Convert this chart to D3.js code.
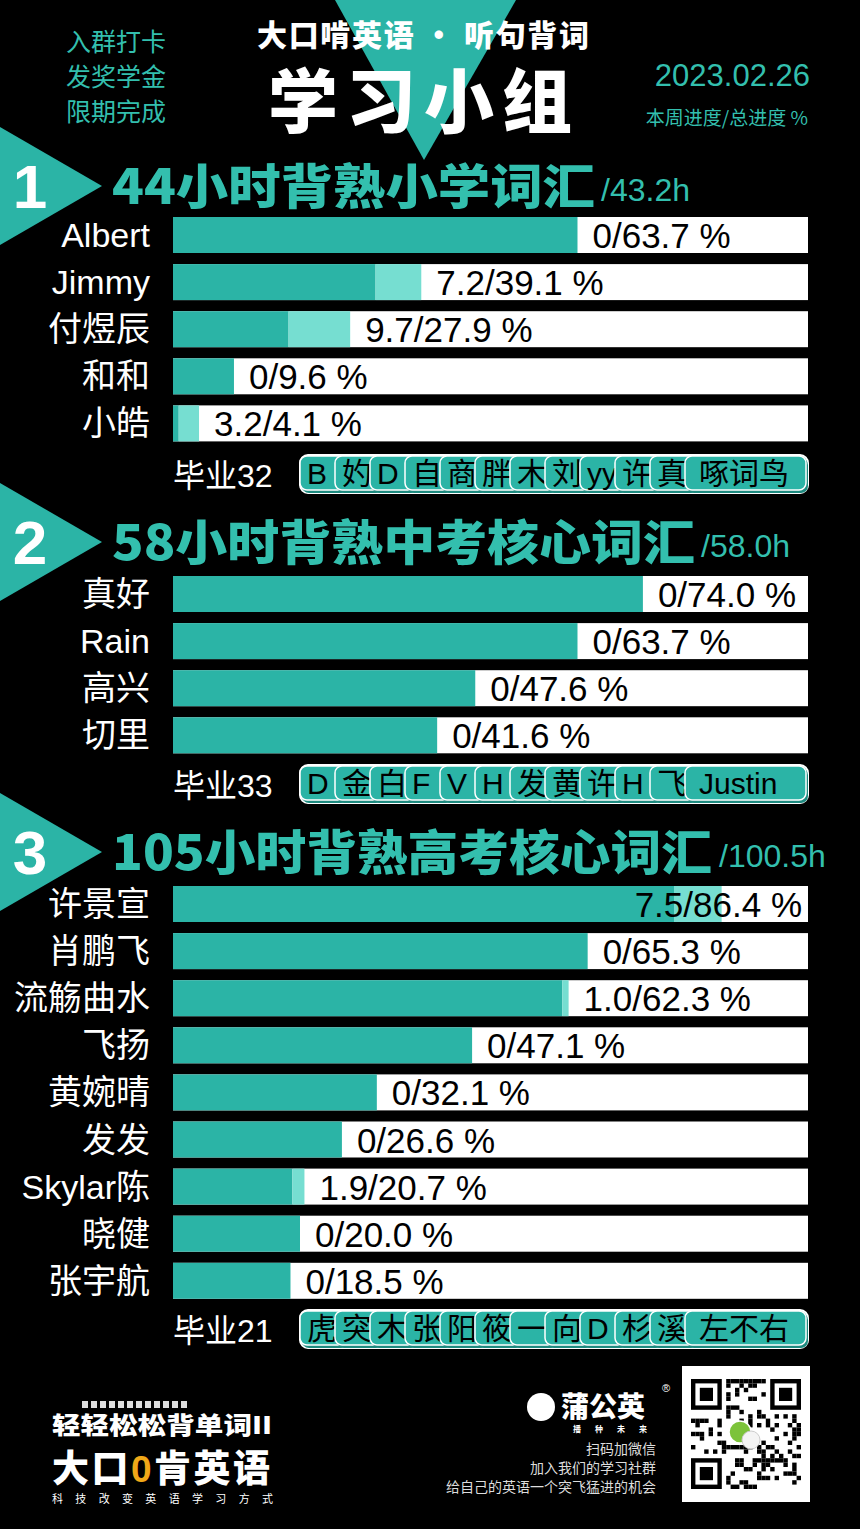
<!DOCTYPE html>
<html>
<head>
<meta charset="utf-8">
<script src="https://cdn.jsdelivr.net/npm/d3@7"></script>
<style>
  html, body { margin: 0; padding: 0; background: #000; }
  svg { display: block; }
</style>
</head>
<body>
<div id="chart"></div>
<script>
"use strict";

// ---- data ----
var group1Names = ["Albert", "Jimmy", "付煜辰", "和和", "小皓"];
var group1Week = [0, 7.2, 9.7, 0, 3.2];
var group1Total = [63.7, 39.1, 27.9, 9.6, 4.1];
var group1Grads = ["B", "妁", "D", "自", "商", "胖", "木", "刘", "yy", "许", "真", "啄词鸟"];

var group2Names = ["真好", "Rain", "高兴", "切里"];
var group2Week = [0, 0, 0, 0];
var group2Total = [74.0, 63.7, 47.6, 41.6];
var group2Grads = ["D", "金", "白", "F", "V", "H", "发", "黄", "许", "H", "飞", "Justin"];

var group3Names = ["许景宣", "肖鹏飞", "流觞曲水", "飞扬", "黄婉晴", "发发", "Skylar陈", "晓健", "张宇航"];
var group3Week = [7.5, 0, 1.0, 0, 0, 0, 1.9, 0, 0];
var group3Total = [86.4, 65.3, 62.3, 47.1, 32.1, 26.6, 20.7, 20.0, 18.5];
var group3Grads = ["虎", "突", "木", "张", "阳", "筱", "一", "向", "D", "杉", "溪", "左不右"];

var titles = ["44小时背熟小学词汇", "58小时背熟中考核心词汇", "105小时背熟高考核心词汇"];
var hours = ["/43.2h", "/58.0h", "/100.5h"];
var gradCounts = [32, 33, 21];

// ---- layout ----
var W = 860, H = 1529;
var teal = "#2bb4a6", light = "#76ded1", titleTeal = "#33bfae";
var latin = "'Liberation Sans', 'Noto Sans CJK SC', sans-serif";
var cjk = "'Noto Sans CJK SC', sans-serif";
var step = 47.1, barH = 36;

var sections = [
  { names: group1Names, week: group1Week, total: group1Total, grads: group1Grads,
    headTop: 127, barTop: 217, gradTop: 455, titleW: 483, hourX: 601 },
  { names: group2Names, week: group2Week, total: group2Total, grads: group2Grads,
    headTop: 483, barTop: 576, gradTop: 765, titleW: 583, hourX: 701 },
  { names: group3Names, week: group3Week, total: group3Total, grads: group3Grads,
    headTop: 793, barTop: 886, gradTop: 1310, titleW: 600, hourX: 719 }
];

var svg = d3.select("#chart").append("svg")
  .attr("width", W).attr("height", H)
  .style("background", "#000");

svg.append("rect").attr("width", W).attr("height", H).attr("fill", "#000");

// ---- header ----
svg.append("polygon")
  .attr("points", "335,0 516,0 424,160")
  .attr("fill", teal);

var leftLines = ["入群打卡", "发奖学金", "限期完成"];
svg.selectAll("text.lefthead")
  .data(leftLines)
  .enter().append("text")
  .attr("class", "lefthead")
  .attr("x", 116)
  .attr("y", function(d, i) { return 51 + i * 35; })
  .attr("text-anchor", "middle")
  .attr("font-family", cjk)
  .attr("font-size", 25)
  .attr("fill", titleTeal)
  .text(function(d) { return d; });

svg.append("text")
  .attr("x", 423).attr("y", 46)
  .attr("text-anchor", "middle")
  .attr("font-family", cjk).attr("font-weight", 900)
  .attr("font-size", 30).attr("fill", "#fff")
  .attr("textLength", 332)
  .text("大口啃英语 · 听句背词");

svg.append("text")
  .attr("x", 424).attr("y", 128)
  .attr("text-anchor", "middle")
  .attr("font-family", cjk).attr("font-weight", 900)
  .attr("font-size", 70).attr("letter-spacing", 8)
  .attr("fill", "#fff")
  .text("学习小组");

svg.append("text")
  .attr("x", 810).attr("y", 86)
  .attr("text-anchor", "end")
  .attr("font-family", latin)
  .attr("font-size", 31).attr("fill", titleTeal)
  .text("2023.02.26");

svg.append("text")
  .attr("x", 808).attr("y", 125)
  .attr("text-anchor", "end")
  .attr("font-family", cjk)
  .attr("font-size", 19).attr("fill", titleTeal)
  .text("本周进度/总进度 %");

// ---- scales ----
var x = d3.scaleLinear().domain([0, 100]).range([173, 808]);

sections.forEach(function(sec, si) {
  var g = svg.append("g");

  // section arrow + number
  var t = sec.headTop;
  g.append("polygon")
    .attr("points", "0," + t + " 102," + (t + 59) + " 0," + (t + 118))
    .attr("fill", teal);
  g.append("text")
    .attr("x", 30).attr("y", t + 81)
    .attr("text-anchor", "middle")
    .attr("font-family", latin).attr("font-weight", "bold")
    .attr("font-size", 62).attr("fill", "#fff")
    .text(si + 1);

  g.append("text")
    .attr("x", 112).attr("y", t + 77)
    .attr("font-family", cjk).attr("font-weight", 900)
    .attr("font-size", 48).attr("fill", titleTeal)
    .attr("textLength", sec.titleW).attr("lengthAdjust", "spacingAndGlyphs")
    .text(titles[si]);
  g.append("text")
    .attr("x", sec.hourX).attr("y", t + 74)
    .attr("font-family", latin)
    .attr("font-size", 32).attr("fill", titleTeal)
    .text(hours[si]);

  // bars
  var rows = sec.names.map(function(n, i) {
    return { name: n, week: sec.week[i], total: sec.total[i] };
  });
  var y = d3.scaleBand()
    .domain(sec.names)
    .range([sec.barTop, sec.barTop + step * (sec.names.length - 1) + barH])
    .paddingInner((step - barH) / step).paddingOuter(0);

  var row = g.selectAll("g.row")
    .data(rows)
    .enter().append("g").attr("class", "row");

  row.append("rect")
    .attr("x", x(0)).attr("y", function(d) { return y(d.name); })
    .attr("width", x(100) - x(0)).attr("height", y.bandwidth())
    .attr("fill", "#fff");

  row.append("rect")
    .attr("x", x(0)).attr("y", function(d) { return y(d.name); })
    .attr("width", function(d) { return x(d.total - d.week) - x(0); })
    .attr("height", y.bandwidth())
    .attr("fill", teal);

  row.append("rect")
    .attr("x", function(d) { return x(d.total - d.week); })
    .attr("y", function(d) { return y(d.name); })
    .attr("width", function(d) { return x(d.total) - x(d.total - d.week); })
    .attr("height", y.bandwidth())
    .attr("fill", light);

  row.append("text")
    .attr("x", 150)
    .attr("y", function(d) { return y(d.name) + 30; })
    .attr("text-anchor", "end")
    .attr("font-family", latin)
    .attr("font-size", 34).attr("fill", "#fff")
    .text(function(d) { return d.name; });

  row.append("text")
    .attr("class", "val")
    .attr("x", function(d) { return x(d.total) + 15; })
    .attr("y", function(d) { return y(d.name) + 31; })
    .attr("font-family", latin)
    .attr("font-size", 35).attr("fill", "#000")
    .text(function(d) { return (d.week === 0 ? "0" : d.week.toFixed(1)) + "/" + d.total.toFixed(1) + " %"; })
    .each(function() {
      var el = d3.select(this);
      var len = this.getComputedTextLength();
      if (+el.attr("x") + len > 802) {
        el.attr("x", 802).attr("text-anchor", "end");
      }
    });

  // graduates
  var gt = sec.gradTop;
  g.append("text")
    .attr("x", 173).attr("y", gt + 32)
    .attr("font-family", latin)
    .attr("font-size", 32).attr("fill", "#fff")
    .text("毕业" + gradCounts[si]);

  g.append("rect")
    .attr("x", 300).attr("y", gt)
    .attr("width", 508).attr("height", 38).attr("rx", 8)
    .attr("fill", teal).attr("stroke", "#fff").attr("stroke-width", 2);

  var n = sec.grads.length;
  var pill = g.selectAll("g.pill")
    .data(sec.grads)
    .enter().append("g").attr("class", "pill");

  pill.append("rect")
    .attr("x", function(d, i) { return 302 + i * 35; })
    .attr("y", gt + 3)
    .attr("width", function(d, i) { return i === n - 1 ? 808 - (302 + i * 35) : 46; })
    .attr("height", 35).attr("rx", 7)
    .attr("fill", "#1d8a7f");

  pill.append("rect")
    .attr("x", function(d, i) { return 300 + i * 35; })
    .attr("y", gt + 1)
    .attr("width", function(d, i) { return i === n - 1 ? 806 - (300 + i * 35) : 46; })
    .attr("height", 34).attr("rx", 7)
    .attr("fill", teal).attr("stroke", "#fff").attr("stroke-width", 1.5);

  pill.append("text")
    .attr("x", function(d, i) { return i === n - 1 ? 300 + i * 35 + 14 : 300 + i * 35 + 7; })
    .attr("y", gt + 29)
    .attr("font-family", latin)
    .attr("font-size", 30).attr("fill", "#000")
    .text(function(d) { return d; });
});

// ---- footer left ----
var foot = svg.append("g");
var barcode = [0, 1, 2, 3, 4, 5, 6, 7, 8, 9, 10, 11];
foot.selectAll("rect.bc")
  .data(barcode)
  .enter().append("rect")
  .attr("class", "bc")
  .attr("x", function(d) { return 82 + d * 9; })
  .attr("y", 1401).attr("width", 6).attr("height", 7)
  .attr("fill", "#ddd");

foot.append("text")
  .attr("x", 52).attr("y", 1434)
  .attr("font-family", cjk).attr("font-weight", 900)
  .attr("font-size", 24).attr("fill", "#fff")
  .attr("textLength", 220).attr("lengthAdjust", "spacingAndGlyphs")
  .text("轻轻松松背单词II");

var brand = foot.append("text")
  .attr("x", 52).attr("y", 1482)
  .attr("font-family", cjk).attr("font-weight", 900)
  .attr("font-size", 37).attr("fill", "#fff")
  .attr("textLength", 218);
brand.append("tspan").text("大口");
brand.append("tspan").attr("fill", "#f0a818").attr("font-family", latin).text("0");
brand.append("tspan").text("肯英语");

foot.append("text")
  .attr("x", 52).attr("y", 1503)
  .attr("font-family", cjk)
  .attr("font-size", 11).attr("fill", "#fff")
  .attr("textLength", 221)
  .text("科技改变英语学习方式");

// ---- footer right ----
foot.append("circle").attr("cx", 541).attr("cy", 1407).attr("r", 14).attr("fill", "#fff");
foot.append("text")
  .attr("x", 561).attr("y", 1417)
  .attr("font-family", cjk).attr("font-weight", 900)
  .attr("font-size", 28).attr("fill", "#fff")
  .text("蒲公英");
foot.append("text")
  .attr("x", 662).attr("y", 1392)
  .attr("font-family", latin)
  .attr("font-size", 11).attr("fill", "#fff")
  .text("®");
foot.append("text")
  .attr("x", 573).attr("y", 1432)
  .attr("font-family", cjk).attr("font-weight", "bold")
  .attr("font-size", 8).attr("fill", "#fff")
  .attr("textLength", 74)
  .text("播种未来");

var slogan = ["扫码加微信", "加入我们的学习社群", "给自己的英语一个突飞猛进的机会"];
foot.selectAll("text.slogan")
  .data(slogan)
  .enter().append("text")
  .attr("class", "slogan")
  .attr("x", 656)
  .attr("y", function(d, i) { return 1454 + i * 19; })
  .attr("text-anchor", "end")
  .attr("font-family", cjk)
  .attr("font-size", 14).attr("fill", "#ddd")
  .text(function(d) { return d; });

// QR code (decorative)
var qx = 682, qy = 1366, qs = 128;
foot.append("rect").attr("x", qx).attr("y", qy).attr("width", qs).attr("height", qs + 8).attr("fill", "#fff");
var cells = [];
var m = 25, cs = 4.4, ox = qx + 9, oy = qy + 13;
for (var r = 0; r < m; r++) {
  for (var c = 0; c < m; c++) {
    var inFinder = (r < 8 && c < 8) || (r < 8 && c >= m - 8) || (r >= m - 8 && c < 8);
    if (inFinder) continue;
    if (((r * 5 + c * 3) ^ (r * c)) % 3 === 0) cells.push([r, c]);
  }
}
foot.selectAll("rect.qr")
  .data(cells)
  .enter().append("rect")
  .attr("class", "qr")
  .attr("x", function(d) { return ox + d[1] * cs; })
  .attr("y", function(d) { return oy + d[0] * cs; })
  .attr("width", cs).attr("height", cs)
  .attr("fill", "#000");
[[0, 0], [0, m - 7], [m - 7, 0]].forEach(function(p) {
  foot.append("rect").attr("x", ox + p[1] * cs + cs / 2).attr("y", oy + p[0] * cs + cs / 2)
    .attr("width", cs * 6).attr("height", cs * 6)
    .attr("fill", "none").attr("stroke", "#000").attr("stroke-width", cs);
  foot.append("rect").attr("x", ox + (p[1] + 2) * cs).attr("y", oy + (p[0] + 2) * cs)
    .attr("width", cs * 3).attr("height", cs * 3).attr("fill", "#000");
});
foot.append("circle").attr("cx", 740).attr("cy", 1432).attr("r", 11).attr("fill", "#7cc33a").attr("stroke", "#fff").attr("stroke-width", 1.5);
foot.append("circle").attr("cx", 751).attr("cy", 1440).attr("r", 9).attr("fill", "#f4f4f4").attr("stroke", "#ccc");
</script>
</body>
</html>
